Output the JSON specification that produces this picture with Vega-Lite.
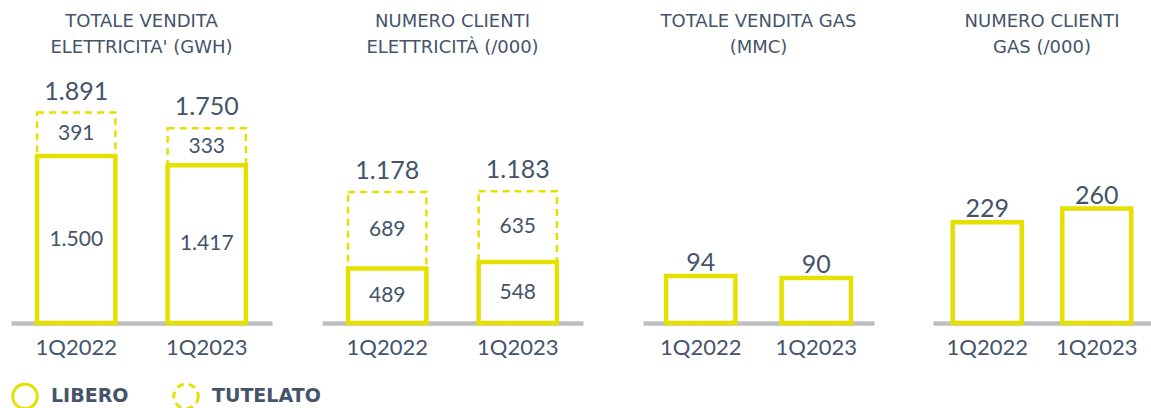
{
  "$schema": "https://vega.github.io/schema/vega-lite/v6.json",
  "padding": {"left": 11, "top": 13, "right": 0, "bottom": 0},
  "background": "white",
  "datasets": {
    "all": [
      {"panel": "ee_vol", "period": "1Q2022", "type": "TUTELATO", "value": 391},
      {"panel": "ee_vol", "period": "1Q2023", "type": "TUTELATO", "value": 333},
      {"panel": "ee_vol", "period": "1Q2022", "type": "LIBERO", "value": 1500},
      {"panel": "ee_vol", "period": "1Q2023", "type": "LIBERO", "value": 1417},
      {"panel": "ee_cli", "period": "1Q2022", "type": "TUTELATO", "value": 689},
      {"panel": "ee_cli", "period": "1Q2023", "type": "TUTELATO", "value": 635},
      {"panel": "ee_cli", "period": "1Q2022", "type": "LIBERO", "value": 489},
      {"panel": "ee_cli", "period": "1Q2023", "type": "LIBERO", "value": 548},
      {"panel": "gas_vol", "period": "1Q2022", "type": "LIBERO", "value": 94},
      {"panel": "gas_vol", "period": "1Q2023", "type": "LIBERO", "value": 90},
      {"panel": "gas_cli", "period": "1Q2022", "type": "LIBERO", "value": 229},
      {"panel": "gas_cli", "period": "1Q2023", "type": "LIBERO", "value": 260}
    ]
  },
  "hconcat": [
    {
      "spacing": 50,
      "hconcat": [
        {
          "title": {"text": ["TOTALE VENDITA", "ELETTRICITA' (GWH)"]},
          "width": 261, "height": 250,
          "data": {"name": "all"},
          "transform": [{"filter": "datum.panel === 'ee_vol'"}],
          "encoding": {
            "x": {"field": "period", "type": "nominal", "scale": {"paddingInner": 0.4, "paddingOuter": 0.2}, "axis": {"title": null}}
          },
          "layer": [
            {
              "mark": {"type": "bar", "filled": false, "stroke": "#e6e000"},
              "encoding": {
                "y": {"field": "value", "type": "quantitative", "stack": "zero", "scale": {"domain": [0, 2246], "nice": false}, "axis": null},
                "order": {"field": "type", "sort": "ascending"},
                "strokeDash": {"field": "type", "type": "nominal", "scale": {"domain": ["LIBERO", "TUTELATO"], "range": [[1, 0], [7, 5]]},
                  "legend": {"title": null, "orient": "none", "legendX": 0, "legendY": 309, "direction": "horizontal", "symbolType": "circle", "symbolSize": 600, "symbolStrokeWidth": 3, "symbolStrokeColor": "#e6e000", "symbolFillColor": "white", "labelFont": "DejaVu Sans", "labelFontWeight": "bold", "labelFontSize": 19, "labelColor": "#44546a", "labelOffset": 12, "columnPadding": 38}},
                "strokeWidth": {"condition": {"test": "datum.type === 'TUTELATO'", "value": 2.5}, "value": 4.5}
              }
            },
            {
              "mark": {"type": "text", "fontSize": 21, "color": "#44546a", "font": "Lato"},
              "encoding": {
                "y": {"field": "value", "type": "quantitative", "stack": "zero", "bandPosition": 0.5},
                "detail": {"field": "type"},
                "order": {"field": "type", "sort": "ascending"},
                "text": {"field": "value", "type": "quantitative", "format": ",d"}
              }
            },
            {
              "mark": {"type": "text", "fontSize": 25, "color": "#44546a", "font": "Lato", "baseline": "alphabetic", "dy": -13},
              "encoding": {
                "y": {"aggregate": "sum", "field": "value", "type": "quantitative"},
                "text": {"aggregate": "sum", "field": "value", "type": "quantitative", "format": ",d"}
              }
            }
          ]
        },
        {
          "title": {"text": ["NUMERO CLIENTI", "ELETTRICITÀ (/000)"]},
          "width": 261, "height": 250,
          "data": {"name": "all"},
          "transform": [{"filter": "datum.panel === 'ee_cli'"}],
          "encoding": {
            "x": {"field": "period", "type": "nominal", "scale": {"paddingInner": 0.4, "paddingOuter": 0.2}, "axis": {"title": null}}
          },
          "layer": [
            {
              "mark": {"type": "bar", "filled": false, "stroke": "#e6e000"},
              "encoding": {
                "y": {"field": "value", "type": "quantitative", "stack": "zero", "scale": {"domain": [0, 2246], "nice": false}, "axis": null},
                "order": {"field": "type", "sort": "ascending"},
                "strokeDash": {"field": "type", "type": "nominal", "scale": {"domain": ["LIBERO", "TUTELATO"], "range": [[1, 0], [7, 5]]},
                  "legend": {"title": null, "orient": "none", "legendX": 0, "legendY": 309, "direction": "horizontal", "symbolType": "circle", "symbolSize": 600, "symbolStrokeWidth": 3, "symbolStrokeColor": "#e6e000", "symbolFillColor": "white", "labelFont": "DejaVu Sans", "labelFontWeight": "bold", "labelFontSize": 19, "labelColor": "#44546a", "labelOffset": 12, "columnPadding": 38}},
                "strokeWidth": {"condition": {"test": "datum.type === 'TUTELATO'", "value": 2.5}, "value": 4.5}
              }
            },
            {
              "mark": {"type": "text", "fontSize": 21, "color": "#44546a", "font": "Lato"},
              "encoding": {
                "y": {"field": "value", "type": "quantitative", "stack": "zero", "bandPosition": 0.5},
                "detail": {"field": "type"},
                "order": {"field": "type", "sort": "ascending"},
                "text": {"field": "value", "type": "quantitative", "format": ",d"}
              }
            },
            {
              "mark": {"type": "text", "fontSize": 25, "color": "#44546a", "font": "Lato", "baseline": "alphabetic", "dy": -13},
              "encoding": {
                "y": {"aggregate": "sum", "field": "value", "type": "quantitative"},
                "text": {"aggregate": "sum", "field": "value", "type": "quantitative", "format": ",d"}
              }
            }
          ]
        }
      ]
    },
    {
      "spacing": 59,
      "hconcat": [
        {
          "title": {"text": ["TOTALE VENDITA GAS", "(MMC)"]},
          "width": 231, "height": 250,
          "data": {"name": "all"},
          "transform": [{"filter": "datum.panel === 'gas_vol'"}],
          "encoding": {
            "x": {"field": "period", "type": "nominal", "scale": {"paddingInner": 0.4, "paddingOuter": 0.2}, "axis": {"title": null}}
          },
          "layer": [
            {
              "mark": {"type": "bar", "filled": false, "stroke": "#e6e000", "strokeWidth": 4.5},
              "encoding": {
                "y": {"field": "value", "type": "quantitative", "scale": {"domain": [0, 500], "nice": false}, "axis": null},
                "strokeDash": {"field": "type", "type": "nominal", "scale": {"domain": ["LIBERO", "TUTELATO"], "range": [[1, 0], [7, 5]]},
                  "legend": {"title": null, "orient": "none", "legendX": 0, "legendY": 309, "direction": "horizontal", "symbolType": "circle", "symbolSize": 600, "symbolStrokeWidth": 3, "symbolStrokeColor": "#e6e000", "symbolFillColor": "white", "labelFont": "DejaVu Sans", "labelFontWeight": "bold", "labelFontSize": 19, "labelColor": "#44546a", "labelOffset": 12, "columnPadding": 38}}
              }
            },
            {
              "mark": {"type": "text", "fontSize": 25, "color": "#44546a", "font": "Lato", "baseline": "alphabetic", "dy": -5},
              "encoding": {
                "y": {"field": "value", "type": "quantitative"},
                "text": {"field": "value", "type": "quantitative", "format": ",d"}
              }
            }
          ]
        },
        {
          "title": {"text": ["NUMERO CLIENTI", "GAS (/000)"]},
          "width": 218, "height": 250,
          "data": {"name": "all"},
          "transform": [{"filter": "datum.panel === 'gas_cli'"}],
          "encoding": {
            "x": {"field": "period", "type": "nominal", "scale": {"paddingInner": 0.37, "paddingOuter": 0.18}, "axis": {"title": null}}
          },
          "layer": [
            {
              "mark": {"type": "bar", "filled": false, "stroke": "#e6e000", "strokeWidth": 4.5},
              "encoding": {
                "y": {"field": "value", "type": "quantitative", "scale": {"domain": [0, 568], "nice": false}, "axis": null},
                "strokeDash": {"field": "type", "type": "nominal", "scale": {"domain": ["LIBERO", "TUTELATO"], "range": [[1, 0], [7, 5]]},
                  "legend": {"title": null, "orient": "none", "legendX": 0, "legendY": 309, "direction": "horizontal", "symbolType": "circle", "symbolSize": 600, "symbolStrokeWidth": 3, "symbolStrokeColor": "#e6e000", "symbolFillColor": "white", "labelFont": "DejaVu Sans", "labelFontWeight": "bold", "labelFontSize": 19, "labelColor": "#44546a", "labelOffset": 12, "columnPadding": 38}}
              }
            },
            {
              "mark": {"type": "text", "fontSize": 25, "color": "#44546a", "font": "Lato", "baseline": "alphabetic", "dy": -5},
              "encoding": {
                "y": {"field": "value", "type": "quantitative"},
                "text": {"field": "value", "type": "quantitative", "format": ",d"}
              }
            }
          ]
        }
      ]
    }
  ],
  "spacing": 60,
  "config": {
    "locale": {"number": {"decimal": ",", "thousands": ".", "grouping": [3], "currency": ["€", ""]}},
    "view": {"stroke": null},
    "title": {"font": "DejaVu Sans", "fontSize": 18, "fontWeight": "normal", "color": "#44546a", "lineHeight": 26, "anchor": "middle", "offset": 16},
    "axisX": {"labelAngle": 0, "ticks": false, "domainColor": "#bfbfbf", "domainWidth": 4.5, "labelFont": "Lato", "labelFontSize": 22, "labelColor": "#44546a", "labelPadding": 14, "zindex": 1, "grid": false}
  }
}
